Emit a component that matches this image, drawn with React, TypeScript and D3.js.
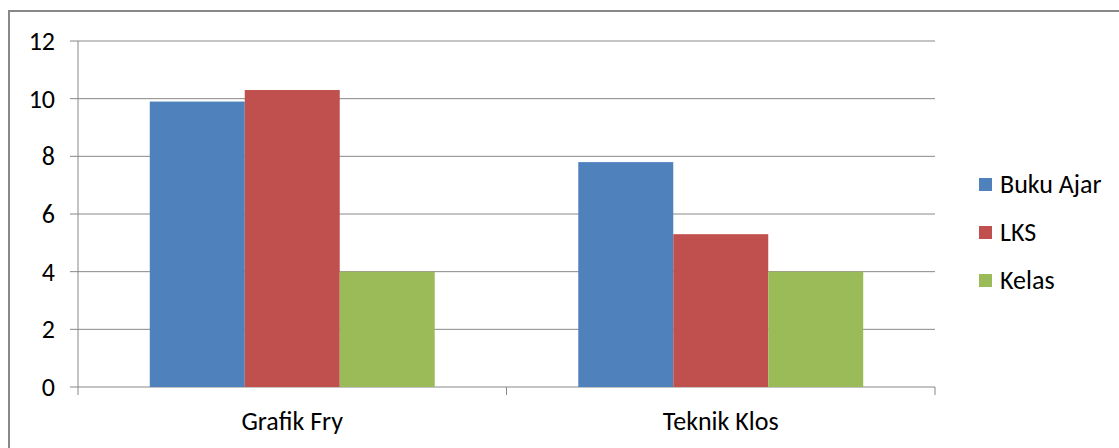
import React from "react";
import * as d3 from "d3";

const categories = ["Grafik Fry", "Teknik Klos"];
const seriesNames = ["Buku Ajar", "LKS", "Kelas"];
const bukuAjar = [9.9, 7.8];
const lks = [10.3, 5.3];
const kelas = [4, 4];
const yTicks = [0, 2, 4, 6, 8, 10, 12];
const colors = ["#4F81BD", "#C0504D", "#9BBB59"];

export default function App() {
  const W = 1119, H = 448;
  const left = 78, right = 935, top = 41, bottom = 387;
  const series = [bukuAjar, lks, kelas];
  const y = d3.scaleLinear().domain([0, 12]).range([bottom, top]);
  const x0 = d3.scaleBand().domain(categories).range([left, right]).paddingInner(0.335).paddingOuter(0.1675);
  const x1 = d3.scaleBand().domain(seriesNames).range([0, x0.bandwidth()]);
  const font = "Carlito, Calibri, 'Open Sans', sans-serif";
  const fs = 26;
  return (
    <svg width={W} height={H} style={{ position: "absolute", left: 0, top: 0, background: "#fff" }} fontFamily={font}>
      <rect x={9} y={11} width={1200} height={600} fill="none" stroke="#888" strokeWidth={2} />
      {yTicks.map((t) => (
        <g key={t}>
          <line x1={70} x2={right} y1={y(t)} y2={y(t)} stroke="#888" strokeWidth={1} />
          <text x={55} y={y(t)} dy="0.35em" textAnchor="end" fontSize={fs} fill="#000">{t}</text>
        </g>
      ))}
      <line x1={left} x2={left} y1={top} y2={bottom} stroke="#888" />
      {[left, (left + right) / 2, right].map((xv, i) => (
        <line key={i} x1={xv} x2={xv} y1={bottom} y2={bottom + 8} stroke="#888" />
      ))}
      {categories.map((c, ci) => (
        <g key={c}>
          {series.map((s, si) => (
            <rect key={si} x={x0(c)! + x1(seriesNames[si])!} width={x1.bandwidth()} y={y(s[ci])} height={bottom - y(s[ci])} fill={colors[si]} />
          ))}
          <text x={x0(c)! + x0.bandwidth() / 2} y={430} textAnchor="middle" fontSize={fs} fill="#000">{c}</text>
        </g>
      ))}
      {seriesNames.map((n, i) => (
        <g key={n} transform={`translate(979, ${184 + i * 48})`}>
          <rect x={0} y={-6} width={13} height={13} fill={colors[i]} />
          <text x={21} y={0} dy="0.35em" fontSize={fs} fill="#000">{n}</text>
        </g>
      ))}
    </svg>
  );
}
